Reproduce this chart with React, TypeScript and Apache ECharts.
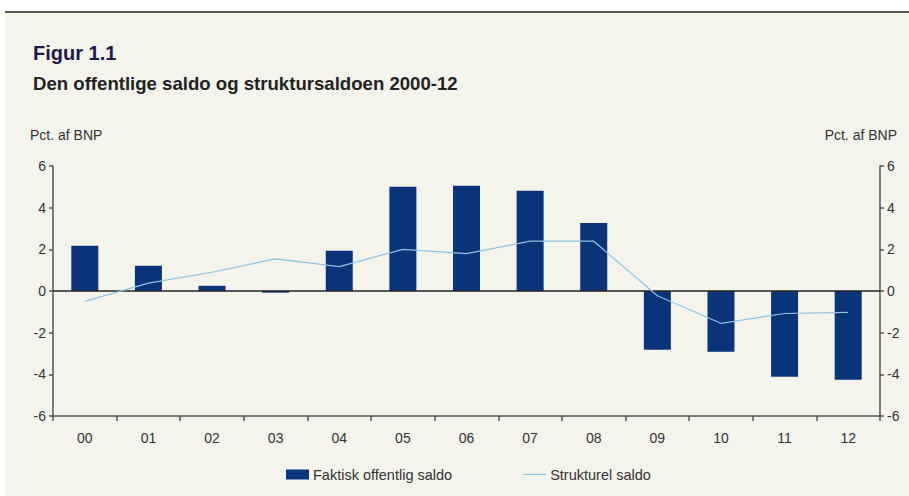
import React, { useEffect, useRef } from "react";
import * as echarts from "echarts";

const categories = ["00", "01", "02", "03", "04", "05", "06", "07", "08", "09", "10", "11", "12"];
const faktiskSaldo = [2.17, 1.21, 0.25, -0.08, 1.93, 5.0, 5.05, 4.81, 3.27, -2.82, -2.91, -4.12, -4.26];
const strukturelSaldo = [-0.5, 0.38, 0.9, 1.54, 1.17, 2.0, 1.79, 2.39, 2.39, -0.23, -1.55, -1.08, -1.03];
const yTicks = { min: -6, max: 6, interval: 2 };

const BG = "#F5F4EC";
const FONT = "'Liberation Sans', Arial, sans-serif";

export default function App() {
  const ref = useRef<HTMLDivElement>(null);
  useEffect(() => {
    document.body.style.margin = "0";
    const chart = echarts.init(ref.current!, undefined, { renderer: "svg" });
    const yAxisBase = {
      type: "value" as const,
      min: yTicks.min,
      max: yTicks.max,
      interval: yTicks.interval,
      splitLine: { show: false },
      axisLine: { show: true, lineStyle: { color: "#555", width: 1.5 } },
      axisTick: { show: true, length: 4, lineStyle: { color: "#555", width: 1.5 } },
      axisLabel: { color: "#333", fontSize: 14, fontFamily: FONT, margin: 7 },
    };
    chart.setOption({
      animation: false,
      backgroundColor: "#fff",
      textStyle: { fontFamily: FONT },
      graphic: [
        { type: "rect", shape: { x: 5, y: 12, width: 904, height: 484 }, style: { fill: BG }, silent: true, z: -10 },
        { type: "line", shape: { x1: 5, y1: 12, x2: 909, y2: 12 }, style: { stroke: "#222", lineWidth: 1.5 }, silent: true },
        { type: "text", left: 33, top: 43, style: { text: "Figur 1.1", fontSize: 20, fontWeight: "bold", fill: "#1c1a4a", fontFamily: FONT } },
        { type: "text", left: 33, top: 74, style: { text: "Den offentlige saldo og struktursaldoen 2000-12", fontSize: 18.6, fontWeight: "bold", fill: "#222", fontFamily: FONT } },
        { type: "text", left: 30, top: 128, style: { text: "Pct. af BNP", fontSize: 14, fill: "#333", fontFamily: FONT } },
        { type: "text", right: 12, top: 128, style: { text: "Pct. af BNP", fontSize: 14, fill: "#333", fontFamily: FONT } },
      ],
      grid: { left: 53, right: 29, top: 166, bottom: 80, containLabel: false },
      legend: {
        left: 281,
        top: 462,
        itemWidth: 23,
        itemHeight: 10,
        itemGap: 71,
        textStyle: { color: "#333", fontSize: 14.5, fontFamily: FONT, padding: [0, 0, 0, -1] },
        data: [
          { name: "Faktisk offentlig saldo", icon: "rect" },
          { name: "Strukturel saldo", icon: "path://M0 0 H230 V12 H0 Z", itemStyle: { color: "#8EC3E0" } },
        ],
      },
      xAxis: {
        type: "category",
        data: categories,
        boundaryGap: true,
        axisLine: { show: true, onZero: false, lineStyle: { color: "#555", width: 1.5 } },
        axisTick: { show: true, length: 5, alignWithLabel: false, lineStyle: { color: "#555", width: 1.5 } },
        axisLabel: { color: "#333", fontSize: 14, fontFamily: FONT, margin: 15 },
      },
      yAxis: [
        { ...yAxisBase, position: "left" },
        { ...yAxisBase, position: "right" },
      ],
      series: [
        {
          name: "Faktisk offentlig saldo",
          type: "bar",
          data: faktiskSaldo,
          barWidth: 27,
          itemStyle: { color: "#0A347A" },
          markLine: {
            silent: true,
            symbol: "none",
            label: { show: false },
            lineStyle: { color: "#222", width: 1.5, type: "solid" },
            data: [{ yAxis: 0 }],
          },
        },
        {
          name: "Strukturel saldo",
          type: "line",
          data: strukturelSaldo,
          symbol: "none",
          lineStyle: { color: "#8EC3E0", width: 1.2 },
          itemStyle: { color: "#8EC3E0" },
          z: 5,
        },
      ],
    });
    return () => chart.dispose();
  }, []);
  return <div ref={ref} style={{ width: 909, height: 496 }} />;
}
